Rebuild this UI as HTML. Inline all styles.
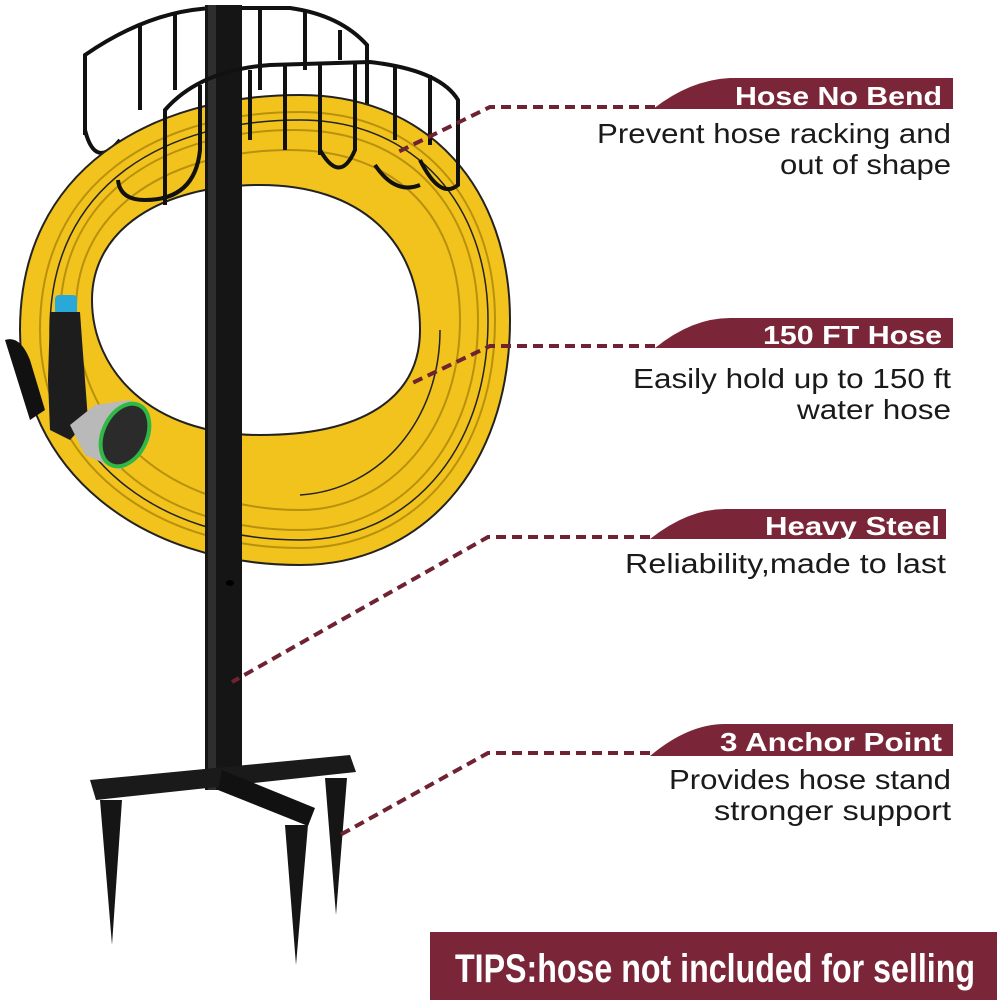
<!DOCTYPE html>
<html><head><meta charset="utf-8"><style>
html,body{margin:0;padding:0;background:#fff;}
svg{display:block;}
.t{font-family:"Liberation Sans",sans-serif;}
</style></head><body>
<svg width="997" height="1000" viewBox="0 0 997 1000" xmlns="http://www.w3.org/2000/svg">
<rect width="997" height="1000" fill="#fff"/>
<!-- back basket -->
<g fill="none" stroke="#111" stroke-width="4">
<path d="M85 135 L85 55 Q150 10 215 8 L290 8 Q340 15 367 45 L367 150"/>
<path d="M140 110 V25 M175 90 V14 M260 90 V10 M305 70 V12 M340 60 V30"/>
<path d="M85 130 Q95 170 120 140"/>
</g>
<!-- pole -->
<rect x="205" y="5" width="37" height="785" fill="#151515"/>
<rect x="208" y="5" width="8" height="785" fill="#2e2e2e"/>
<!-- coil -->
<path fill-rule="evenodd" fill="#f2c31c" stroke="#222" stroke-width="2" d="M20 330 C20 170 150 95 300 95 C430 95 510 190 510 320 C510 470 420 565 300 565 C140 565 20 470 20 330 Z M92 300 C92 370 150 435 260 435 C360 435 420 400 420 330 C420 240 360 185 260 185 C160 185 92 230 92 300 Z"/>
<g fill="none" stroke="#b8900e" stroke-width="2">
<path d="M40 330 C40 180 160 112 300 112 C420 112 495 200 495 320 C495 460 410 548 300 548 C150 548 40 460 40 330"/>
<path d="M60 320 C60 190 170 130 295 130 C410 130 478 210 478 320 C478 445 400 530 300 530 C160 530 60 450 60 320"/>
<path d="M76 310 C76 205 175 150 290 150 C400 150 460 220 460 320 C460 430 390 510 300 510 C170 510 76 430 76 310"/>
</g>
<g fill="none" stroke="#222" stroke-width="1.5">
<path d="M50 330 C50 185 165 120 300 120 C415 120 488 205 488 320 C488 455 405 540 300 540 C155 540 50 455 50 330"/>
<path d="M440 330 C440 420 380 490 300 495"/>
</g>
<!-- pole over coil -->
<rect x="205" y="5" width="37" height="785" fill="#151515"/>
<rect x="208" y="5" width="8" height="785" fill="#2e2e2e"/>
<ellipse cx="230" cy="583" rx="4" ry="3" fill="#000"/>
<!-- front basket -->
<g fill="none" stroke="#111" stroke-width="4">
<path d="M165 205 L165 110 Q200 70 270 65 L370 62 Q440 70 458 100 L458 185 Q440 200 420 160"/>
<path d="M200 85 V150 Q195 200 145 200 Q120 200 118 180"/>
<path d="M250 70 V140 M285 66 V150 M320 64 V155 M355 64 V150 Q340 185 320 150 M395 66 V140 M430 75 V145"/>
<path d="M375 165 Q395 195 420 185"/>
</g>
<!-- nozzle -->
<rect x="55" y="295" width="22" height="20" rx="4" fill="#2aa8d8"/>
<path d="M50 312 L80 312 L82 340 L88 420 L70 440 L50 430 L48 380 Z" fill="#1d1d1d"/>
<path d="M5 340 Q20 335 30 360 L45 410 L30 420 Z" fill="#111"/>
<path d="M70 425 L95 405 L130 400 L150 440 L120 470 L85 455 Z" fill="#b9b9b9"/>
<ellipse cx="125" cy="435" rx="22" ry="33" fill="#2b2b2b" stroke="#2fb844" stroke-width="4" transform="rotate(25 125 435)"/>
<!-- base -->
<path d="M90 780 L350 755 L356 772 L96 800 Z" fill="#1a1a1a"/>
<path d="M222 770 L315 808 L308 826 L218 790 Z" fill="#111"/>
<path d="M100 800 L122 800 L112 945 Z" fill="#151515"/>
<path d="M285 825 L308 825 L296 965 Z" fill="#151515"/>
<path d="M325 778 L347 778 L336 915 Z" fill="#151515"/>
<!-- connectors -->
<g fill="none" stroke="#6e2232" stroke-width="4" stroke-dasharray="10 6">
<path d="M655 107 L490 107 L398 152"/>
<path d="M655 346 L490 346 L408 385"/>
<path d="M650 537 L488 537 L232 682"/>
<path d="M650 753 L488 753 L340 835"/>
</g>
<!-- tabs -->
<g fill="#7a2638">
<path d="M653 109 Q690 80 730 78 L953 78 L953 109 Z"/>
<path d="M655 348 Q692 318 730 318 L953 318 L953 348 Z"/>
<path d="M650 539 Q688 509 725 509 L946 509 L946 539 Z"/>
<path d="M650 756 Q688 724 725 724 L953 724 L953 756 Z"/>
</g>
<g class="t" font-weight="bold" font-size="26" fill="#fff" lengthAdjust="spacingAndGlyphs">
<text x="735" y="105" textLength="207" lengthAdjust="spacingAndGlyphs">Hose No Bend</text>
<text x="763" y="344" textLength="179" lengthAdjust="spacingAndGlyphs">150 FT Hose</text>
<text x="765" y="535" textLength="175" lengthAdjust="spacingAndGlyphs">Heavy Steel</text>
<text x="720" y="751" textLength="222" lengthAdjust="spacingAndGlyphs">3 Anchor Point</text>
</g>
<g class="t" font-size="28" fill="#1a1a1a">
<text x="597" y="143" textLength="354" lengthAdjust="spacingAndGlyphs">Prevent hose racking and</text>
<text x="780" y="174" textLength="171" lengthAdjust="spacingAndGlyphs">out of shape</text>
<text x="633" y="388" textLength="318" lengthAdjust="spacingAndGlyphs">Easily hold up to 150 ft</text>
<text x="797" y="419" textLength="154" lengthAdjust="spacingAndGlyphs">water hose</text>
<text x="625" y="573" textLength="321" lengthAdjust="spacingAndGlyphs">Reliability,made to last</text>
<text x="669" y="789" textLength="282" lengthAdjust="spacingAndGlyphs">Provides hose stand</text>
<text x="714" y="820" textLength="237" lengthAdjust="spacingAndGlyphs">stronger support</text>
</g>
<rect x="430" y="932" width="567" height="68" fill="#7a2638"/>
<text class="t" x="455" y="982" font-size="40" font-weight="bold" fill="#fff" textLength="520" lengthAdjust="spacingAndGlyphs">TIPS:hose not included for selling</text>
</svg>
</body></html>
